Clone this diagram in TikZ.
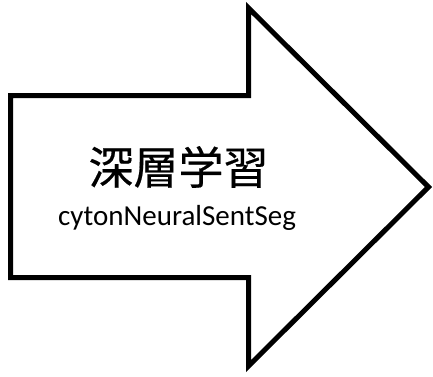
\documentclass[tikz,border=0pt]{standalone}
\usepackage{fontspec}
\newfontfamily\jpfont[FakeBold=0.4]{Noto Sans CJK JP}
\newfontfamily\latinsans{Carlito}
\begin{document}
\begin{tikzpicture}[x=1pt,y=-1pt,
  arrowbody/.style={draw=black,line width=5pt,line join=miter,fill=white},
  titletext/.style={font=\jpfont\fontsize{45}{50}\selectfont,inner sep=0pt},
  subtext/.style={font=\latinsans\fontsize{29}{32}\selectfont,inner sep=0pt}]
  \useasboundingbox (0,0) rectangle (433,376);
  % block arrow pointing right
  \draw[arrowbody] (10.5,95.5) -- (248.5,95.5) -- (248.5,8) -- (428.5,187)
    -- (248.5,366) -- (248.5,277.5) -- (10.5,277.5) -- cycle;
  \node[titletext] (title) at (178.5,167) {深層学習};
  \node[subtext,anchor=base] (sub) at (177,225) {cytonNeuralSentSeg};
\end{tikzpicture}
\end{document}
